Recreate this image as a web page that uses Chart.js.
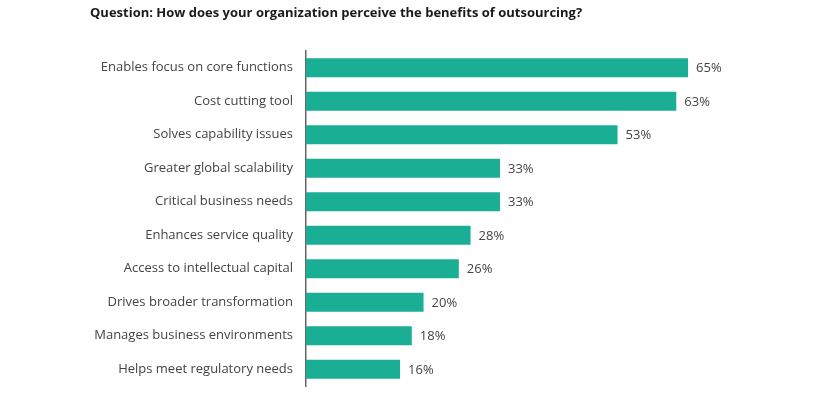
<!DOCTYPE html>
<html>
<head>
<meta charset="utf-8">
<script src="https://cdn.jsdelivr.net/npm/chart.js@4"></script>
<style>
  html, body { margin: 0; padding: 0; background: #fff; }
  canvas { display: block; }
</style>
</head>
<body>
<canvas id="benefitsChart" width="840" height="394"></canvas>
<script>
const chartTitle = 'Question: How does your organization perceive the benefits of outsourcing?';
const categories = [
  'Enables focus on core functions',
  'Cost cutting tool',
  'Solves capability issues',
  'Greater global scalability',
  'Critical business needs',
  'Enhances service quality',
  'Access to intellectual capital',
  'Drives broader transformation',
  'Manages business environments',
  'Helps meet regulatory needs'
];
const percentValues = [65, 63, 53, 33, 33, 28, 26, 20, 18, 16];

const FONT = "'Open Sans', 'Noto Sans', sans-serif";

// titulo arriba a la izquierda
const titlePlugin = {
  id: 'questionTitle',
  afterDraw(chart) {
    const ctx = chart.ctx;
    ctx.save();
    ctx.font = "bold 13px " + FONT;
    ctx.fillStyle = '#1a1a1a';
    ctx.textAlign = 'left';
    ctx.textBaseline = 'middle';
    ctx.fillText(chartTitle, 90, 13);
    ctx.restore();
  }
};

// etiquetas de porcentaje al final de cada barra
const valueLabels = {
  id: 'valueLabels',
  afterDatasetsDraw(chart) {
    const ctx = chart.ctx;
    const meta = chart.getDatasetMeta(0);
    ctx.save();
    ctx.font = "13px " + FONT;
    ctx.fillStyle = '#444';
    ctx.textAlign = 'left';
    ctx.textBaseline = 'middle';
    meta.data.forEach((bar, i) => {
      ctx.fillText(percentValues[i] + '%', bar.x + 8, bar.y + 1);
    });
    ctx.restore();
  }
};

new Chart(document.getElementById('benefitsChart'), {
  type: 'bar',
  data: {
    labels: categories,
    datasets: [{
      data: percentValues,
      backgroundColor: '#1aaf95',
      borderWidth: 0,
      barPercentage: 0.57,
      categoryPercentage: 1
    }]
  },
  options: {
    indexAxis: 'y',
    responsive: false,
    animation: false,
    layout: { padding: { top: 51, bottom: 8, left: 0, right: 5 } },
    plugins: { legend: { display: false }, tooltip: { enabled: false } },
    scales: {
      x: {
        display: false,
        min: 0,
        max: 90
      },
      y: {
        afterFit(scale) {
          scale.width = 306;
          scale.paddingTop = 0;
          scale.paddingBottom = 0;
        },
        grid: { display: false, drawTicks: false },
        border: { display: true, color: '#666', width: 1.5 },
        ticks: {
          padding: 13,
          color: '#444',
          font: { family: FONT, size: 13 }
        }
      }
    }
  },
  plugins: [titlePlugin, valueLabels]
});
</script>
</body>
</html>
